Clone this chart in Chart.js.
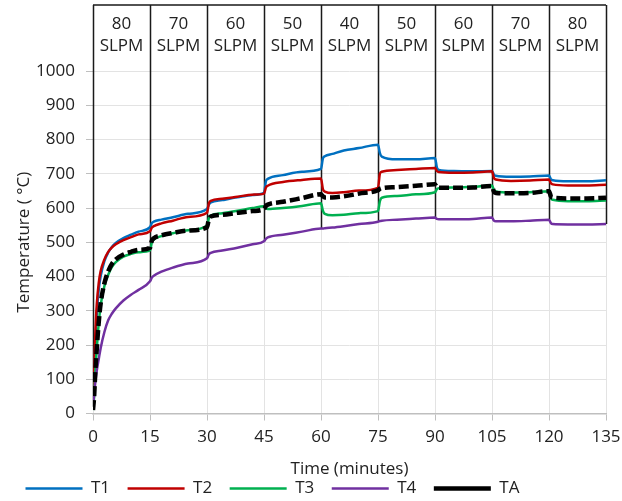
<!DOCTYPE html>
<html>
<head>
<meta charset="utf-8">
<script src="https://cdn.jsdelivr.net/npm/chart.js@4.4.1/dist/chart.umd.min.js"></script>
<style>
  html, body { margin: 0; padding: 0; background: #fff; }
</style>
</head>
<body>
<canvas id="tempChart" width="622" height="501"></canvas>
<script>
// time axis (minutes) shared by every series
const minutes = [0, 0.3, 0.6, 1, 1.5, 2, 3, 4, 5, 6, 8, 10, 12, 15,
  15.5, 16, 18, 21, 25, 30,
  30.5, 31, 34, 38, 42, 45,
  45.5, 46, 50, 55, 60,
  60.5, 61, 63, 66, 70, 75,
  75.5, 76, 80, 85, 90,
  90.5, 91, 95, 100, 105,
  105.5, 106, 110, 115, 120,
  120.5, 121, 125, 130, 135];

const t1 = [20, 100, 200, 290, 360, 400, 445, 470, 487, 498, 512, 522, 531, 544,
  556, 560, 566, 573, 583, 597,
  610, 616, 623, 631, 638, 644,
  678, 685, 696, 706, 714,
  745, 751, 758, 768, 775, 785,
  760, 750, 742, 742, 746,
  718, 711, 708, 707, 708,
  698, 694, 691, 692, 695,
  684, 681, 678, 678, 681];

const t2 = [25, 120, 230, 320, 380, 415, 450, 472, 485, 494, 506, 515, 523, 532,
  543, 547, 555, 563, 574, 586,
  614, 621, 627, 633, 639, 642,
  660, 665, 676, 682, 686,
  655, 648, 644, 646, 651, 659,
  700, 706, 711, 714, 717,
  708, 705, 703, 704, 707,
  688, 683, 679, 680, 683,
  672, 669, 666, 666, 668];

const t3 = [10, 50, 120, 190, 262, 315, 372, 405, 428, 442, 458, 466, 471, 476,
  500, 508, 518, 526, 535, 549,
  570, 578, 585, 592, 600, 605,
  599, 597, 600, 606, 614,
  592, 583, 579, 580, 585, 591,
  620, 630, 635, 640, 646,
  655, 658, 660, 662, 666,
  652, 648, 645, 646, 649,
  628, 624, 620, 620, 622];

const t4 = [20, 55, 90, 125, 158, 190, 238, 272, 292, 307, 330, 347, 361, 386,
  397, 402, 414, 426, 438, 453,
  465, 469, 476, 484, 494, 503,
  510, 514, 522, 531, 540,
  540, 541, 543, 547, 553, 560,
  562, 563, 566, 569, 572,
  568, 567, 567, 568, 572,
  563, 561, 561, 563, 566,
  556, 553, 552, 552, 553];

const ta = [10, 50, 120, 190, 265, 320, 380, 415, 437, 450, 464, 472, 478, 484,
  505, 512, 520, 527, 534, 544,
  568, 575, 580, 586, 591, 597,
  606, 610, 618, 629, 640,
  634, 631, 631, 634, 642, 652,
  656, 658, 661, 665, 669,
  661, 659, 659, 660, 664,
  648, 644, 643, 644, 649,
  634, 630, 628, 628, 630];

// flow-rate periods shown in the header band
const flowBounds = [0, 15, 30, 45, 60, 75, 90, 105, 120, 135];
const flowRates = [80, 70, 60, 50, 40, 50, 60, 70, 80];

const FONT = "'Open Sans', 'DejaVu Sans', sans-serif";
const HEADER_H = 66;

const pts = (vals) => vals.map((v, i) => ({ x: minutes[i], y: v }));

// header box with SLPM labels and the divider lines down to the T4 curve
const slpmHeader = {
  id: "slpmHeader",
  beforeDatasetsDraw(chart) {
    const ctx = chart.ctx;
    const xs = chart.scales.x;
    const ys = chart.scales.y;
    const top = chart.chartArea.top - HEADER_H;
    ctx.save();
    ctx.strokeStyle = "#1a1a1a";
    ctx.lineWidth = 1.5;
    ctx.beginPath();
    ctx.moveTo(xs.getPixelForValue(flowBounds[0]), top);
    ctx.lineTo(xs.getPixelForValue(flowBounds[flowBounds.length - 1]), top);
    flowBounds.forEach((b) => {
      const i = minutes.indexOf(b);
      const px = Math.round(xs.getPixelForValue(b)) + 0.5;
      ctx.moveTo(px, top);
      ctx.lineTo(px, ys.getPixelForValue(t4[i]));
    });
    ctx.stroke();

    ctx.fillStyle = "#222";
    ctx.font = "17px " + FONT;
    ctx.textAlign = "center";
    ctx.textBaseline = "middle";
    flowRates.forEach((r, i) => {
      const cx = xs.getPixelForValue((flowBounds[i] + flowBounds[i + 1]) / 2);
      ctx.fillText(String(r), cx, top + 19);
      ctx.fillText("SLPM", cx, top + 41);
    });
    ctx.restore();
  },
};

const ctx = document.getElementById("tempChart").getContext("2d");
const myChart = new Chart(ctx, {
  type: "line",
  data: {
    datasets: [
      { label: "T1", data: pts(t1), borderColor: "#0070C0", backgroundColor: "#0070C0", borderWidth: 2.5, order: 5 },
      { label: "T2", data: pts(t2), borderColor: "#C00000", backgroundColor: "#C00000", borderWidth: 2.5, order: 4 },
      { label: "T3", data: pts(t3), borderColor: "#00B050", backgroundColor: "#00B050", borderWidth: 2.5, order: 3 },
      { label: "T4", data: pts(t4), borderColor: "#7030A0", backgroundColor: "#7030A0", borderWidth: 2.5, order: 2 },
      { label: "TA", data: pts(ta), borderColor: "#000000", backgroundColor: "#000000", borderWidth: 4.5, borderDash: [10, 4], order: 1 },
    ],
  },
  options: {
    responsive: false,
    animation: false,
    elements: {
      point: { radius: 0 },
      line: { cubicInterpolationMode: "monotone", fill: false },
    },
    layout: { padding: { top: HEADER_H + 5, right: 16, left: 8, bottom: -6 } },
    plugins: {
      tooltip: { enabled: false },
      legend: {
        position: "bottom",
        align: "start",
        labels: {
          usePointStyle: true,
          pointStyle: "line",
          pointStyleWidth: 57,
          padding: 17.5,
          color: "#222",
          font: { family: FONT, size: 17 },
          sort: (a, b) => a.datasetIndex - b.datasetIndex,
        },
      },
    },
    scales: {
      x: {
        type: "linear",
        min: 0,
        max: 135,
        title: { display: true, text: "Time (minutes)", color: "#222", font: { family: FONT, size: 17 }, padding: { top: 0, bottom: -17 } },
        ticks: { stepSize: 15, color: "#222", font: { family: FONT, size: 17 }, padding: 6, maxRotation: 0 },
        grid: { color: "#e3e3e3", tickColor: "#bfbfbf", tickLength: 7 },
        border: { color: "#bfbfbf", width: 1.5 },
        afterFit: (s) => { s.height = 49; s.paddingRight = 0; s.paddingLeft = 0; },
      },
      y: {
        min: 0,
        max: 1000,
        title: { display: true, text: "Temperature ( °C)", color: "#222", font: { family: FONT, size: 17 }, padding: { top: 6, bottom: 0 } },
        ticks: { stepSize: 100, color: "#222", font: { family: FONT, size: 17 }, padding: 11, callback: (v) => String(v) },
        grid: { color: "#e3e3e3", tickColor: "#bfbfbf", tickLength: 7 },
        border: { display: false },
        afterFit: (s) => { s.width = 85; s.paddingTop = 0; s.paddingBottom = 0; },
      },
    },
  },
  plugins: [slpmHeader],
});
</script>
</body>
</html>
